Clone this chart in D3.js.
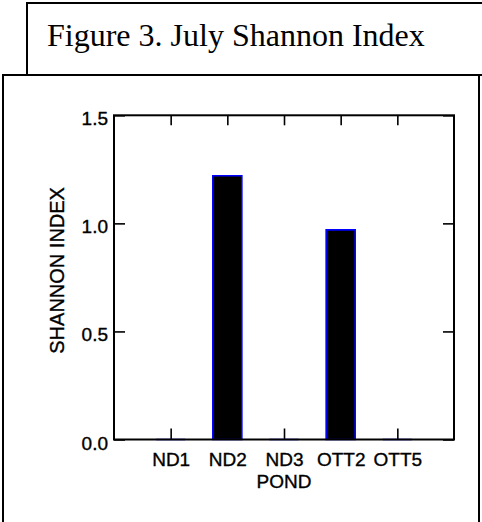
<!DOCTYPE html>
<html>
<head>
<meta charset="utf-8">
<script src="https://cdn.jsdelivr.net/npm/d3@7"></script>
<style>
  html, body { margin: 0; padding: 0; background: #fff; }
  svg { display: block; }
</style>
</head>
<body>
<svg id="chart" width="482" height="522"></svg>
<script>
const categories = ["ND1", "ND2", "ND3", "OTT2", "OTT5"];
const values = [0.0, 1.22, 0.0, 0.97, 0.0];
const yTicks = [0.0, 0.5, 1.0, 1.5];
const titleText = "Figure 3. July Shannon Index";
const xLabel = "POND";
const yLabel = "SHANNON INDEX";

(function () {
const svg = d3.select("#chart");
const sans = "'Liberation Sans', Arial, Helvetica, sans-serif";
const heavy = sel => sel.attr("stroke", "#000").attr("stroke-width", 0.35);

// outer boxes
svg.append("rect").attr("x", 3).attr("y", 75).attr("width", 476).attr("height", 470)
  .attr("fill", "#fff").attr("stroke", "#000").attr("stroke-width", 2);
svg.append("rect").attr("x", 27).attr("y", 3).attr("width", 470).attr("height", 72)
  .attr("fill", "#fff").attr("stroke", "#000").attr("stroke-width", 2);
svg.append("text").attr("x", 47).attr("y", 46)
  .attr("font-family", "'Liberation Serif', 'Times New Roman', serif")
  .attr("font-size", 32).attr("fill", "#000").text(titleText);

// plot area
const pLeft = 114, pRight = 454, pTop = 115.3, pBottom = 439.5;
const x = d3.scalePoint().domain(categories).range([pLeft, pRight]).padding(1);
const y = d3.scaleLinear().domain([0, 1.5]).range([pBottom, pTop]);
const barW = 29;

const g = svg.append("g");

// y axis left (inward ticks, labels)
const yAxisL = g.append("g").attr("transform", `translate(${pLeft},0)`)
  .call(d3.axisLeft(y).tickValues(yTicks).tickFormat(d3.format(".1f")).tickSizeInner(-11).tickSizeOuter(0).tickPadding(6));
yAxisL.select(".domain").remove();
yAxisL.selectAll("line").attr("stroke-width", 1.6);
yAxisL.selectAll("text").attr("font-family", sans).attr("font-size", 19).attr("dy", "0.5em").attr("fill", "#000").call(heavy);

// y axis right (inward ticks)
const yAxisR = g.append("g").attr("transform", `translate(${pRight},0)`)
  .call(d3.axisRight(y).tickValues(yTicks).tickFormat("").tickSizeInner(-11).tickSizeOuter(0));
yAxisR.select(".domain").remove();
yAxisR.selectAll("line").attr("stroke-width", 1.6);

// x axis top (inward ticks)
const xAxisT = g.append("g").attr("transform", `translate(0,${pTop})`)
  .call(d3.axisTop(x).tickFormat("").tickSizeInner(-10).tickSizeOuter(0));
xAxisT.select(".domain").remove();
xAxisT.selectAll("line").attr("stroke-width", 1.6);

// x axis bottom (inward ticks, labels)
const xAxisB = g.append("g").attr("transform", `translate(0,${pBottom})`)
  .call(d3.axisBottom(x).tickSizeInner(-11).tickSizeOuter(0).tickPadding(13));
xAxisB.select(".domain").remove();
xAxisB.selectAll("line").attr("stroke-width", 1.6);
xAxisB.selectAll("text").attr("font-family", sans).attr("font-size", 19).attr("fill", "#000").call(heavy);

// bars as paths (so zero-height bars still show their outline)
g.selectAll("path.bar").data(categories.map((c, i) => ({ c, v: values[i] })))
  .enter().append("path").attr("class", "bar")
  .attr("d", d => {
    const x0 = x(d.c) - barW / 2, x1 = x(d.c) + barW / 2;
    return `M${x0},${y(0)}V${y(d.v)}H${x1}V${y(0)}Z`;
  })
  .attr("fill", "#000").attr("stroke", "#0000ff").attr("stroke-width", 1.6);

// frame
g.append("rect").attr("x", pLeft).attr("y", pTop).attr("width", pRight - pLeft).attr("height", pBottom - pTop)
  .attr("fill", "none").attr("stroke", "#000").attr("stroke-width", 2);

// axis titles
svg.append("text").attr("x", x(categories[2])).attr("y", 488)
  .attr("text-anchor", "middle").attr("font-family", sans).attr("font-size", 19).attr("fill", "#000")
  .call(heavy).text(xLabel);
svg.append("text").attr("transform", `translate(64,${(pTop + pBottom) / 2 - 7}) rotate(-90)`)
  .attr("text-anchor", "middle").attr("font-family", sans).attr("font-size", 20).attr("fill", "#000")
  .call(heavy).text(yLabel);
})();
</script>
</body>
</html>
